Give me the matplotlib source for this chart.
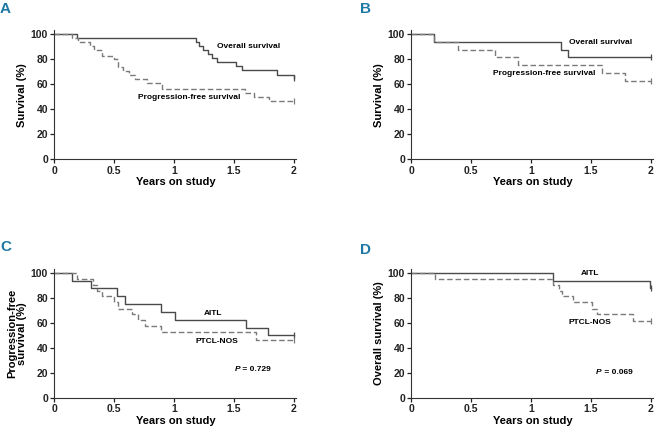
import numpy as np
import matplotlib
matplotlib.use('Agg')
import matplotlib.pyplot as plt

plt.rcParams['font.family'] = ['Liberation Sans', 'DejaVu Sans']
plt.rcParams['font.weight'] = 'bold'

# panel A: whole cohort
a_os_t = [0, 0.19, 1.18, 1.21, 1.24, 1.28, 1.32, 1.36, 1.52, 1.57, 1.86, 2.0]
a_os_s = [100, 96.8, 93.5, 90.3, 87.1, 83.9, 80.6, 77.4, 74.2, 71.0, 67.0, 64.5]
a_pfs_t = [0, 0.15, 0.20, 0.30, 0.33, 0.40, 0.50, 0.53, 0.57, 0.62, 0.67, 0.77, 0.90, 1.59, 1.67, 1.79]
a_pfs_s = [100, 96.9, 93.8, 90.6, 87.5, 82.8, 79.7, 73.4, 70.3, 67.2, 64.1, 61.0, 56.3, 53.0, 49.5, 46.3]

# panel B
b_os_t = [0, 0.19, 1.25, 1.31]
b_os_s = [100, 93.75, 87.5, 81.25]
b_pfs_t = [0, 0.19, 0.39, 0.70, 0.89, 1.59, 1.78]
b_pfs_s = [100, 93.75, 87.5, 81.25, 75.0, 68.75, 62.5]

# panel C: PFS by subtype
c_aitl_t = [0, 0.15, 0.31, 0.52, 0.59, 0.89, 1.01, 1.60, 1.78]
c_aitl_s = [100, 93.75, 87.5, 81.25, 75.0, 68.75, 62.5, 56.25, 50.0]
c_nos_t = [0, 0.19, 0.32, 0.36, 0.40, 0.50, 0.53, 0.65, 0.70, 0.76, 0.89, 1.68]
c_nos_s = [100, 95.2, 90.5, 85.7, 81.0, 76.2, 71.4, 66.7, 61.9, 57.1, 52.4, 46.6]

# panel D: OS by subtype
d_aitl_t = [0, 1.18, 1.99]
d_aitl_s = [100, 93.75, 87.5]
d_nos_t = [0, 0.20, 1.18, 1.23, 1.26, 1.35, 1.51, 1.55, 1.85]
d_nos_s = [100, 95.2, 90.5, 85.7, 81.0, 76.2, 71.4, 66.7, 61.5]

t_end = 2.0
solid_col = '#4a4a4a'
dash_col = '#7a7a7a'


def km(ax, t, s, dashed=False):
    t = list(t) + [t_end]
    s = list(s) + [s[-1]]
    if dashed:
        ax.step(t, s, where='post', color=dash_col, lw=1.0, ls=(0, (4, 2)), clip_on=False)
    else:
        ax.step(t, s, where='post', color=solid_col, lw=1.0, clip_on=False)
    col = dash_col if dashed else solid_col
    ax.plot([t_end], [s[-1]], marker='|', ms=5, mew=0.9, color=col, clip_on=False)


def setup(ax, ylabel):
    ax.set_xlim(0, 2.02)
    ax.set_ylim(0, 103)
    ax.set_xticks([0, 0.5, 1, 1.5, 2])
    ax.set_xticklabels(['0', '0.5', '1', '1.5', '2'])
    ax.set_yticks([0, 20, 40, 60, 80, 100])
    ax.spines['top'].set_visible(False)
    ax.spines['right'].set_visible(False)
    ax.spines['left'].set_color('#333333')
    ax.spines['bottom'].set_color('#333333')
    ax.tick_params(direction='out', length=3, width=0.9, labelsize=7.5, pad=1.5, colors='#222222')
    ax.set_xlabel('Years on study', fontsize=8, fontweight='bold', labelpad=1)
    ax.set_ylabel(ylabel, fontsize=8, fontweight='bold', labelpad=3)


def pval(ax, x, y, txt):
    ax.text(x, y, 'P', fontsize=6, fontweight='bold', fontstyle='italic', ha='right', va='center')
    ax.text(x, y, ' = ' + txt, fontsize=6, fontweight='bold', ha='left', va='center')


fig = plt.figure(figsize=(6.56, 4.28), dpi=100)
axA = fig.add_axes([0.0828, 0.6278, 0.369, 0.3016])
axB = fig.add_axes([0.627, 0.6278, 0.369, 0.3016])
axC = fig.add_axes([0.0828, 0.0701, 0.369, 0.3016])
axD = fig.add_axes([0.627, 0.0701, 0.369, 0.3016])

# A
km(axA, a_os_t, a_os_s)
km(axA, a_pfs_t, a_pfs_s, dashed=True)
setup(axA, 'Survival (%)')
axA.text(1.355, 89.9, 'Overall survival', fontsize=6, fontweight='bold', va='center')
axA.text(0.70, 49.2, 'Progression-free survival', fontsize=6, fontweight='bold', va='center')

# B
km(axB, b_os_t, b_os_s)
km(axB, b_pfs_t, b_pfs_s, dashed=True)
setup(axB, 'Survival (%)')
axB.text(1.315, 92.8, 'Overall survival', fontsize=6, fontweight='bold', va='center')
axB.text(0.683, 68.8, 'Progression-free survival', fontsize=6, fontweight='bold', va='center')

# C
km(axC, c_aitl_t, c_aitl_s)
km(axC, c_nos_t, c_nos_s, dashed=True)
setup(axC, 'Progression-free\nsurvival (%)')
axC.yaxis.label.set_linespacing(0.95)
axC.text(1.32, 67.6, 'AITL', fontsize=6, fontweight='bold', ha='center', va='center')
axC.text(1.355, 44.9, 'PTCL-NOS', fontsize=6, fontweight='bold', ha='center', va='center')
pval(axC, 1.55, 22.6, '0.729')

# D
km(axD, d_aitl_t, d_aitl_s)
km(axD, d_nos_t, d_nos_s, dashed=True)
setup(axD, 'Overall survival (%)')
axD.text(1.49, 99.0, 'AITL', fontsize=6, fontweight='bold', ha='center', va='center')
axD.text(1.487, 60.1, 'PTCL-NOS', fontsize=6, fontweight='bold', ha='center', va='center')
pval(axD, 1.59, 20.2, '0.069')

# panel letters
letter_font = ['Liberation Sans Narrow', 'Liberation Sans', 'DejaVu Sans']
for lab, x, y in [('A', 0.0, 0.995), ('B', 0.549, 0.995), ('C', 0.0, 0.44), ('D', 0.549, 0.433)]:
    fig.text(x, y, lab, fontsize=11, fontweight='bold', color='#1f78a4',
             family=letter_font, ha='left', va='top')

fig.savefig('out.png', dpi=100)
